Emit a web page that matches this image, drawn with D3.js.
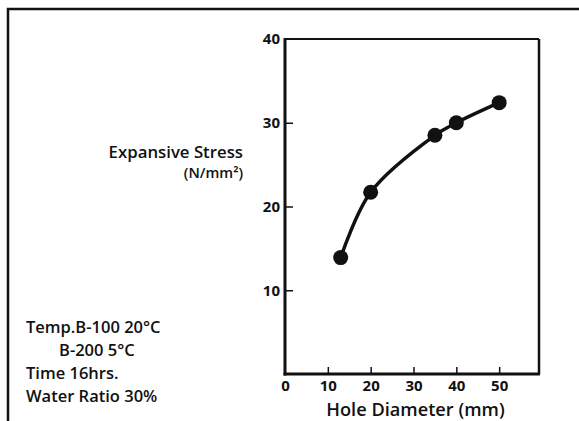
<!DOCTYPE html>
<html>
<head>
<meta charset="utf-8">
<script src="https://cdn.jsdelivr.net/npm/d3@7"></script>
<style>
  html, body { margin: 0; padding: 0; background: #fff; }
  svg { display: block; }
  text { font-family: "Open Sans", "Lato", sans-serif; fill: #111; }
</style>
</head>
<body>
<svg id="chart" width="579" height="421"></svg>
<script>
// ---- data ----
const holeDiameter = [13, 20, 35, 40, 50];          // mm
const expansiveStress = [13.9, 21.7, 28.5, 30.0, 32.4]; // N/mm2
const xTickValues = [0, 10, 20, 30, 40, 50];
const yTickValues = [10, 20, 30, 40];
const yAxisTitle = ["Expansive Stress", "(N/mm²)"];
const xAxisTitle = "Hole Diameter (mm)";
const noteLines = ["Temp.B-100 20°C", "B-200 5°C", "Time 16hrs.", "Water Ratio 30%"];

(function () {
const svg = d3.select("#chart");

// outer frame (extends beyond the window on right/bottom)
svg.append("rect")
  .attr("x", 8).attr("y", 9).attr("width", 640).attr("height", 500)
  .attr("fill", "none").attr("stroke", "#111").attr("stroke-width", 2.5);

const pL = 285, pR = 539, pT = 39, pB = 374;
const x = d3.scaleLinear().domain([0, 59.3]).range([pL, pR]);
const y = d3.scaleLinear().domain([0, 40]).range([pB, pT]);

// plot box
const g = svg.append("g");
g.append("line").attr("x1", pL).attr("x2", pR).attr("y1", pT).attr("y2", pT)
  .attr("stroke", "#111").attr("stroke-width", 2);
g.append("line").attr("x1", pR).attr("x2", pR).attr("y1", pT).attr("y2", pB)
  .attr("stroke", "#111").attr("stroke-width", 2.5);
g.append("line").attr("x1", pL).attr("x2", pL).attr("y1", pT - 1).attr("y2", pB + 1.5)
  .attr("stroke", "#111").attr("stroke-width", 3);
g.append("line").attr("x1", pL - 1.5).attr("x2", pR + 1).attr("y1", pB).attr("y2", pB)
  .attr("stroke", "#111").attr("stroke-width", 3);

// x axis
const xAxis = d3.axisBottom(x).tickValues(xTickValues).tickSizeInner(-7).tickSizeOuter(0).tickPadding(6);
const gx = svg.append("g").attr("transform", `translate(0,${pB})`).call(xAxis);
gx.select(".domain").remove();
gx.selectAll(".tick line").attr("stroke", "#111").attr("stroke-width", 1.5)
  .attr("display", d => d === 0 ? "none" : null);
gx.selectAll(".tick text").attr("font-size", 15).attr("font-weight", 700)
  .attr("font-family", "'Open Sans', sans-serif").attr("fill", "#111");

// y axis
const yAxis = d3.axisLeft(y).tickValues(yTickValues).tickSizeInner(-8).tickSizeOuter(0).tickPadding(5);
const gy = svg.append("g").attr("transform", `translate(${pL},0)`).call(yAxis);
gy.select(".domain").remove();
gy.selectAll(".tick line").attr("stroke", "#111").attr("stroke-width", 1.5)
  .attr("display", d => d === 40 ? "none" : null);
gy.selectAll(".tick text").attr("font-size", 15).attr("font-weight", 700)
  .attr("font-family", "'Open Sans', sans-serif").attr("fill", "#111");

// curve
const pts = holeDiameter.map((d, i) => [d, expansiveStress[i]]);
const line = d3.line().x(d => x(d[0])).y(d => y(d[1])).curve(d3.curveCatmullRom.alpha(0.5));
svg.append("path").datum(pts).attr("d", line)
  .attr("fill", "none").attr("stroke", "#111").attr("stroke-width", 3.5);

svg.selectAll("circle.pt").data(pts).join("circle").attr("class", "pt")
  .attr("cx", d => x(d[0])).attr("cy", d => y(d[1])).attr("r", 7.5).attr("fill", "#111");

// y axis title
svg.append("text").attr("x", 243).attr("y", 158).attr("text-anchor", "end")
  .attr("font-size", 16.8).attr("font-weight", 600).text(yAxisTitle[0]);
svg.append("text").attr("x", 243).attr("y", 178).attr("text-anchor", "end")
  .attr("font-size", 14.5).attr("font-weight", 600).text(yAxisTitle[1]);

// x axis title
svg.append("text").attr("x", 415.5).attr("y", 416).attr("text-anchor", "middle")
  .attr("font-size", 18.2).attr("font-weight", 600).text(xAxisTitle);

// notes
const noteX = [26, 59, 26, 26];
const noteY = [333, 356, 379, 402];
noteLines.forEach((t, i) => {
  svg.append("text").attr("x", noteX[i]).attr("y", noteY[i])
    .attr("font-size", 16.5).attr("font-weight", 600).text(t);
});
})();
</script>
</body>
</html>
